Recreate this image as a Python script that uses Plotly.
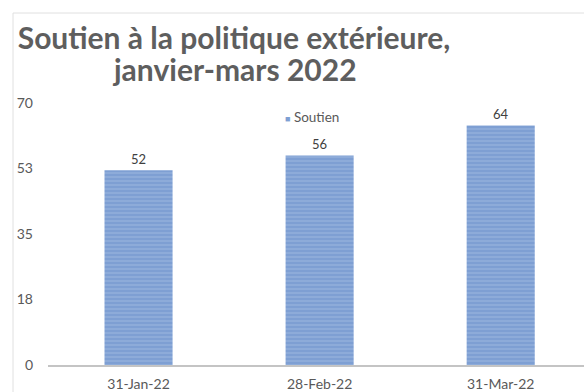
import plotly.graph_objects as go

categories = ["31-Jan-22", "28-Feb-22", "31-Mar-22"]
soutien = [52, 56, 64]
y_tick_vals = [0, 17.5, 35, 52.5, 70]
y_tick_text = ["0", "18", "35", "53", "70"]
title_line1 = "Soutien à la politique extérieure,"
title_line2 = "janvier-mars 2022"
series_name = "Soutien"

W, H = 584, 392
ML, MR, MT, MB = 48, 0, 103, 27
PW = W - ML - MR
PH = H - MT - MB
BAR_COLOR = "#7e9fd3"

def px_x(px):
    return (px - ML) / PW

def px_y(py):
    return (H - MB - py) / PH

fig = go.Figure()
fig.add_trace(go.Bar(
    x=categories, y=soutien, name=series_name,
    width=0.376, showlegend=False,
    marker=dict(color=BAR_COLOR, line=dict(width=0),
                pattern=dict(shape="-", fgcolor="#a9bfe4", bgcolor=BAR_COLOR,
                             size=4, solidity=0.35)),
    text=[str(v) for v in soutien], textposition="outside",
    textfont=dict(family="Lato", size=13, color="#404040"),
    cliponaxis=False,
))

title_font = dict(family="Lato", size=30, color="#5e5e5e", weight="bold")

fig.update_layout(
    width=W, height=H,
    margin=dict(l=ML, r=MR, t=MT, b=MB),
    paper_bgcolor="white", plot_bgcolor="white",
    title=dict(
        text=title_line1,
        font=title_font,
        xref="paper", x=px_x(234), xanchor="center",
        yref="container", y=1 - 38 / H, yanchor="middle",
    ),
    showlegend=False,
    xaxis=dict(range=[-0.5, 2.46], showline=True, linecolor="#c4c4c4", linewidth=2,
               showgrid=False, ticks="", ticklabelstandoff=5,
               tickfont=dict(family="Lato", size=14, color="#595959")),
    yaxis=dict(range=[0, 70], tickvals=y_tick_vals, ticktext=y_tick_text,
               showgrid=False, zeroline=False, showline=False, ticks="",
               ticklabelstandoff=14,
               tickfont=dict(family="Lato", size=14, color="#595959")),
    font=dict(family="Lato"),
    annotations=[
        dict(text=title_line2, font=title_font, showarrow=False,
             xref="paper", yref="paper", x=px_x(234), y=px_y(69),
             xanchor="center", yanchor="middle"),
        dict(text=f"<span style='color:{BAR_COLOR};font-size:9px'>■</span> {series_name}",
             font=dict(family="Lato", size=13.5, color="#595959"), showarrow=False,
             xref="paper", yref="paper", x=px_x(283), y=px_y(117),
             xanchor="left", yanchor="middle"),
    ],
    shapes=[dict(type="rect", xref="paper", yref="paper",
                 x0=px_x(13), x1=px_x(W + 5), y0=px_y(13), y1=px_y(H + 5),
                 line=dict(color="#e0e0e0", width=1), fillcolor="rgba(0,0,0,0)",
                 layer="below")],
)

fig.write_html("out.html")
